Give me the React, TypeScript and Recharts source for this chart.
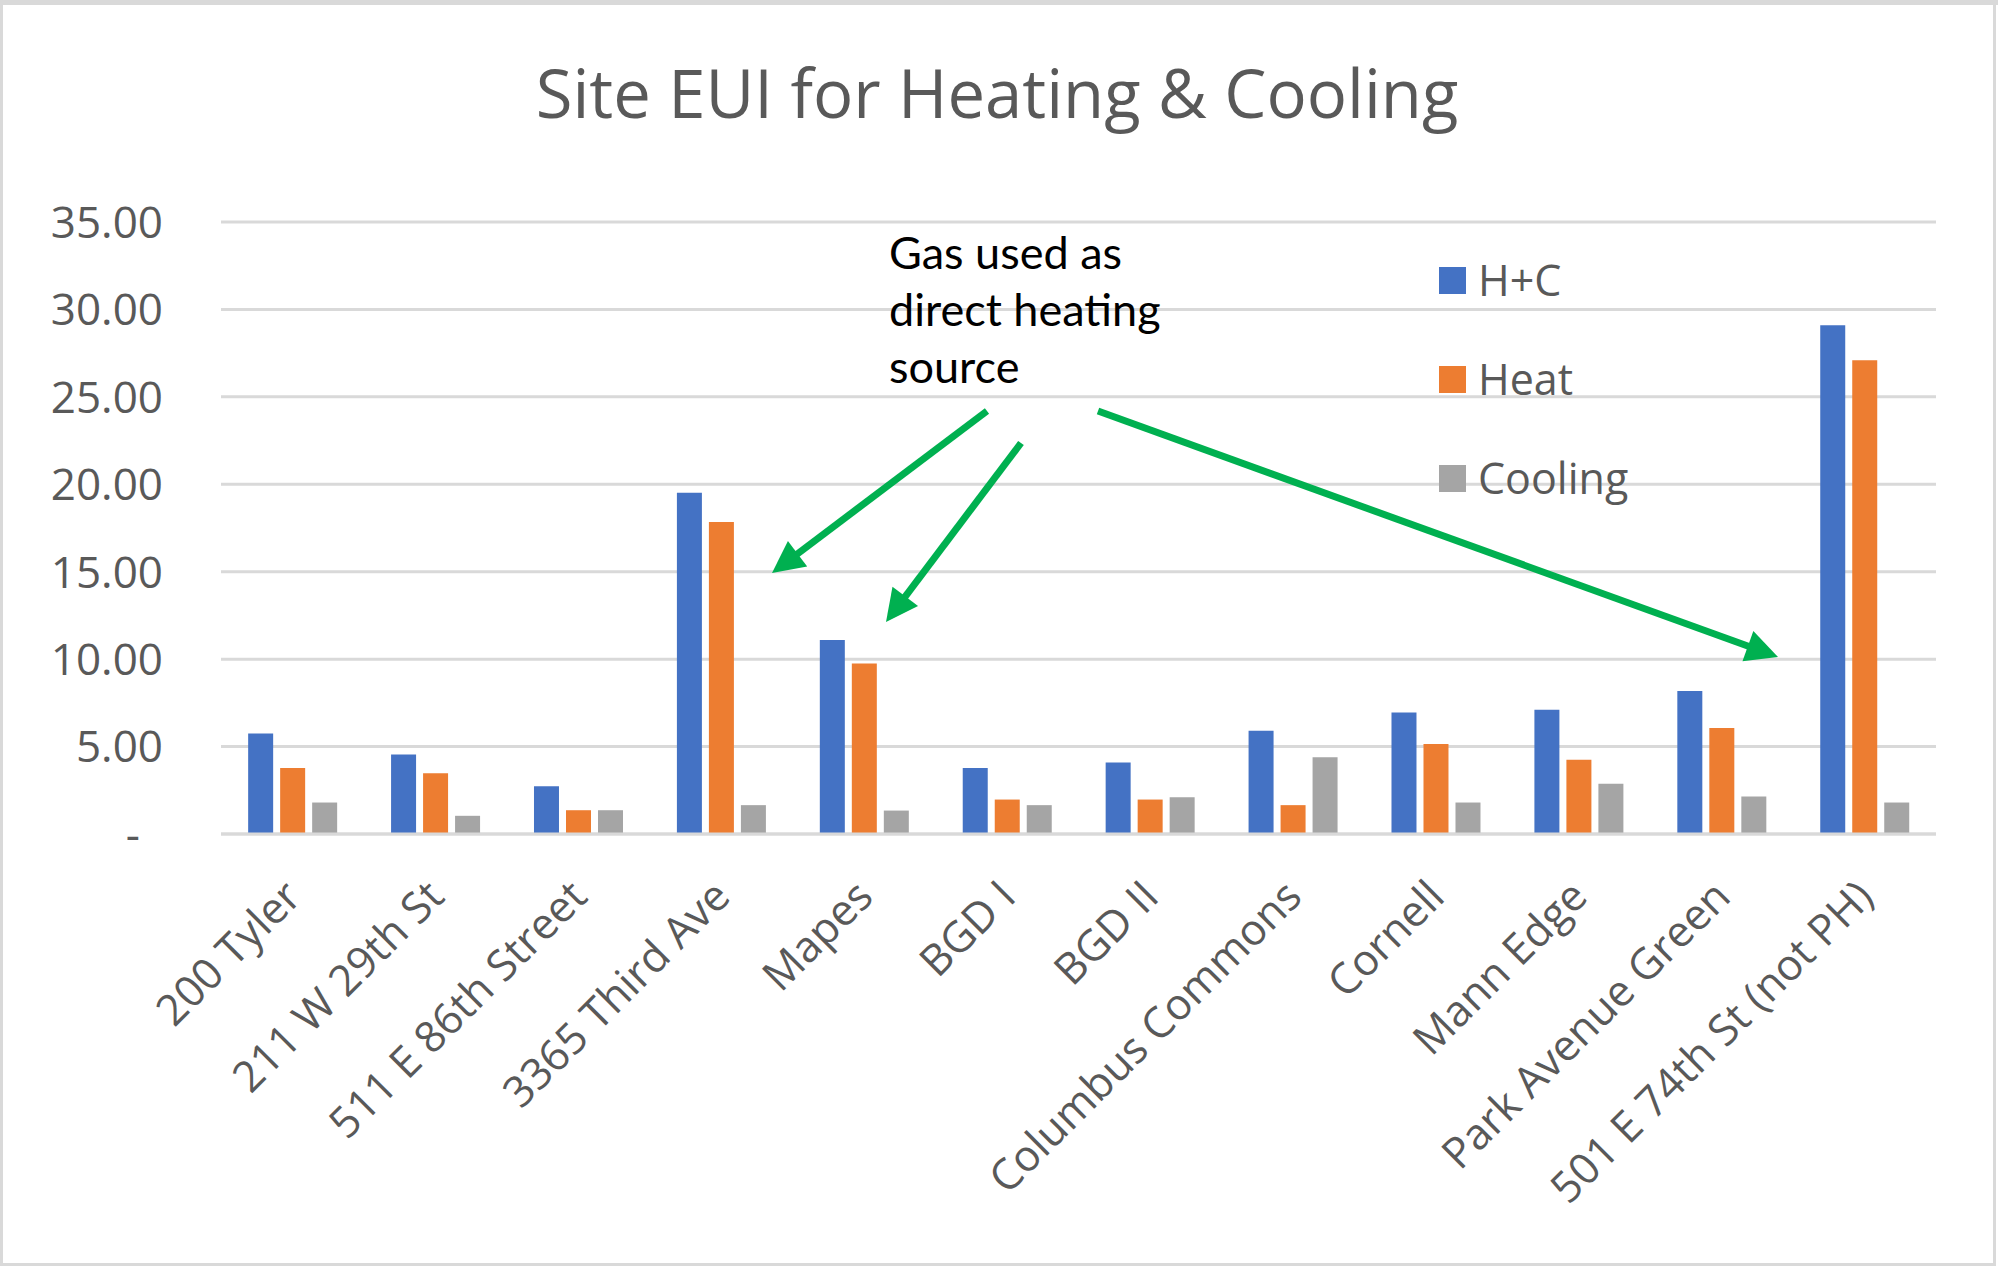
import React from "react";
import { BarChart, Bar, XAxis, YAxis, CartesianGrid, Legend } from "recharts";

const categories = [
  "200 Tyler",
  "211 W 29th St",
  "511 E 86th Street",
  "3365 Third Ave",
  "Mapes",
  "BGD I",
  "BGD II",
  "Columbus Commons",
  "Cornell",
  "Mann Edge",
  "Park Avenue Green",
  "501 E 74th St (not PH)",
];
const hcValues = [5.75, 4.55, 2.73, 19.51, 11.1, 3.77, 4.09, 5.91, 6.95, 7.1, 8.18, 29.1];
const heatValues = [3.78, 3.48, 1.36, 17.85, 9.75, 1.97, 1.97, 1.65, 5.15, 4.24, 6.06, 27.1];
const coolingValues = [1.8, 1.04, 1.36, 1.65, 1.34, 1.65, 2.1, 4.39, 1.8, 2.88, 2.15, 1.8];
const yTicks = [0, 5, 10, 15, 20, 25, 30, 35];
const seriesInfo = [
  { key: "hc", name: "H+C", color: "#4472C4" },
  { key: "heat", name: "Heat", color: "#ED7D31" },
  { key: "cooling", name: "Cooling", color: "#A5A5A5" },
];
const titleText = "Site EUI for Heating & Cooling";
const noteLines = ["Gas used as", "direct heating", "source"];

const data = categories.map((name, i) => ({
  name,
  hc: hcValues[i],
  heat: heatValues[i],
  cooling: coolingValues[i],
}));

const FONT = "'Open Sans', 'Noto Sans', sans-serif";
const TEXT_GRAY = "#595959";
const GREEN = "#00B050";

const XTick = (props: any) => {
  const { x, y, payload } = props;
  const ax = x + 11;
  const ay = y + 65;
  return (
    <text
      x={ax}
      y={ay}
      textAnchor="end"
      transform={`rotate(-45, ${ax}, ${ay})`}
      fontSize={43}
      fontFamily={FONT}
      fill={TEXT_GRAY}
    >
      {payload.value}
    </text>
  );
};

const YTick = (props: any) => {
  const { x, y, payload } = props;
  const v = payload.value as number;
  if (v === 0) {
    return (
      <text x={x - 81} y={y} dy="0.36em" textAnchor="end" fontSize={44} fontFamily={FONT} fill={TEXT_GRAY}>
        -
      </text>
    );
  }
  return (
    <text x={x - 58} y={y} dy="0.36em" textAnchor="end" fontSize={44} fontFamily={FONT} fill={TEXT_GRAY}>
      {v.toFixed(2)}
    </text>
  );
};

const LegendContent = () => (
  <div style={{ display: "flex", flexDirection: "column" }}>
    {seriesInfo.map((s) => (
      <div
        key={s.key}
        style={{ display: "flex", alignItems: "center", height: 28, marginBottom: 71 }}
      >
        <div style={{ width: 27, height: 27, background: s.color, marginRight: 12 }} />
        <span style={{ fontFamily: FONT, fontSize: 43, color: TEXT_GRAY, lineHeight: "28px", whiteSpace: "nowrap" }}>
          {s.name}
        </span>
      </div>
    ))}
  </div>
);

function arrowPath(x1: number, y1: number, x2: number, y2: number) {
  const dx = x2 - x1;
  const dy = y2 - y1;
  const len = Math.sqrt(dx * dx + dy * dy);
  const ux = dx / len;
  const uy = dy / len;
  const headLen = 32;
  const headW = 16;
  const bx = x2 - ux * headLen;
  const by = y2 - uy * headLen;
  const px = -uy;
  const py = ux;
  return {
    line: { x1, y1, x2: bx + ux * 2, y2: by + uy * 2 },
    head: `${x2},${y2} ${bx + px * headW},${by + py * headW} ${bx - px * headW},${by - py * headW}`,
  };
}

const arrows = [
  arrowPath(987, 411, 772, 573),
  arrowPath(1021, 443, 886, 622),
  arrowPath(1098, 411, 1778, 657),
];

export default function App() {
  return (
    <div style={{ position: "absolute", left: 0, top: 0, width: 1998, height: 1268, background: "#fff" }}>
      <BarChart
        width={1998}
        height={1268}
        data={data}
        margin={{ top: 222, right: 62, bottom: 374, left: 0 }}
        barCategoryGap="19%"
        barGap={7}
      >
        <CartesianGrid horizontal vertical={false} stroke="#d9d9d9" strokeWidth={3} />
        <XAxis
          dataKey="name"
          interval={0}
          height={60}
          tickSize={0}
          tickMargin={0}
          tickLine={false}
          axisLine={{ stroke: "#d9d9d9", strokeWidth: 3 }}
          tick={<XTick />}
        />
        <YAxis
          width={221}
          domain={[0, 35]}
          ticks={yTicks}
          tickSize={0}
          tickMargin={0}
          tickLine={false}
          axisLine={false}
          tick={<YTick />}
        />
        <Legend
          layout="vertical"
          align="center"
          verticalAlign="middle"
          content={<LegendContent />}
          wrapperStyle={{ left: 1439, top: 266, width: 300, height: 300 }}
        />
        {seriesInfo.map((s) => (
          <Bar key={s.key} dataKey={s.key} name={s.name} fill={s.color} isAnimationActive={false} />
        ))}
      </BarChart>
      <svg
        width={1998}
        height={1268}
        style={{ position: "absolute", left: 0, top: 0, pointerEvents: "none" }}
      >
        <rect x={0} y={0} width={1998} height={5} fill="#d9d9d9" />
        <rect x={1.5} y={1.5} width={1993} height={1263} fill="none" stroke="#d9d9d9" strokeWidth={3} />
        <text x={997} y={118} textAnchor="middle" fontSize={67} fontFamily={FONT} fill={TEXT_GRAY}>
          {titleText}
        </text>
        {noteLines.map((t, i) => (
          <text key={t} x={889} y={269 + i * 57} fontSize={45} fontFamily="Lato, 'Open Sans', sans-serif" fill="#000">
            {t}
          </text>
        ))}
        {arrows.map((a, i) => (
          <g key={i}>
            <line {...a.line} stroke={GREEN} strokeWidth={7} />
            <polygon points={a.head} fill={GREEN} />
          </g>
        ))}
      </svg>
    </div>
  );
}
